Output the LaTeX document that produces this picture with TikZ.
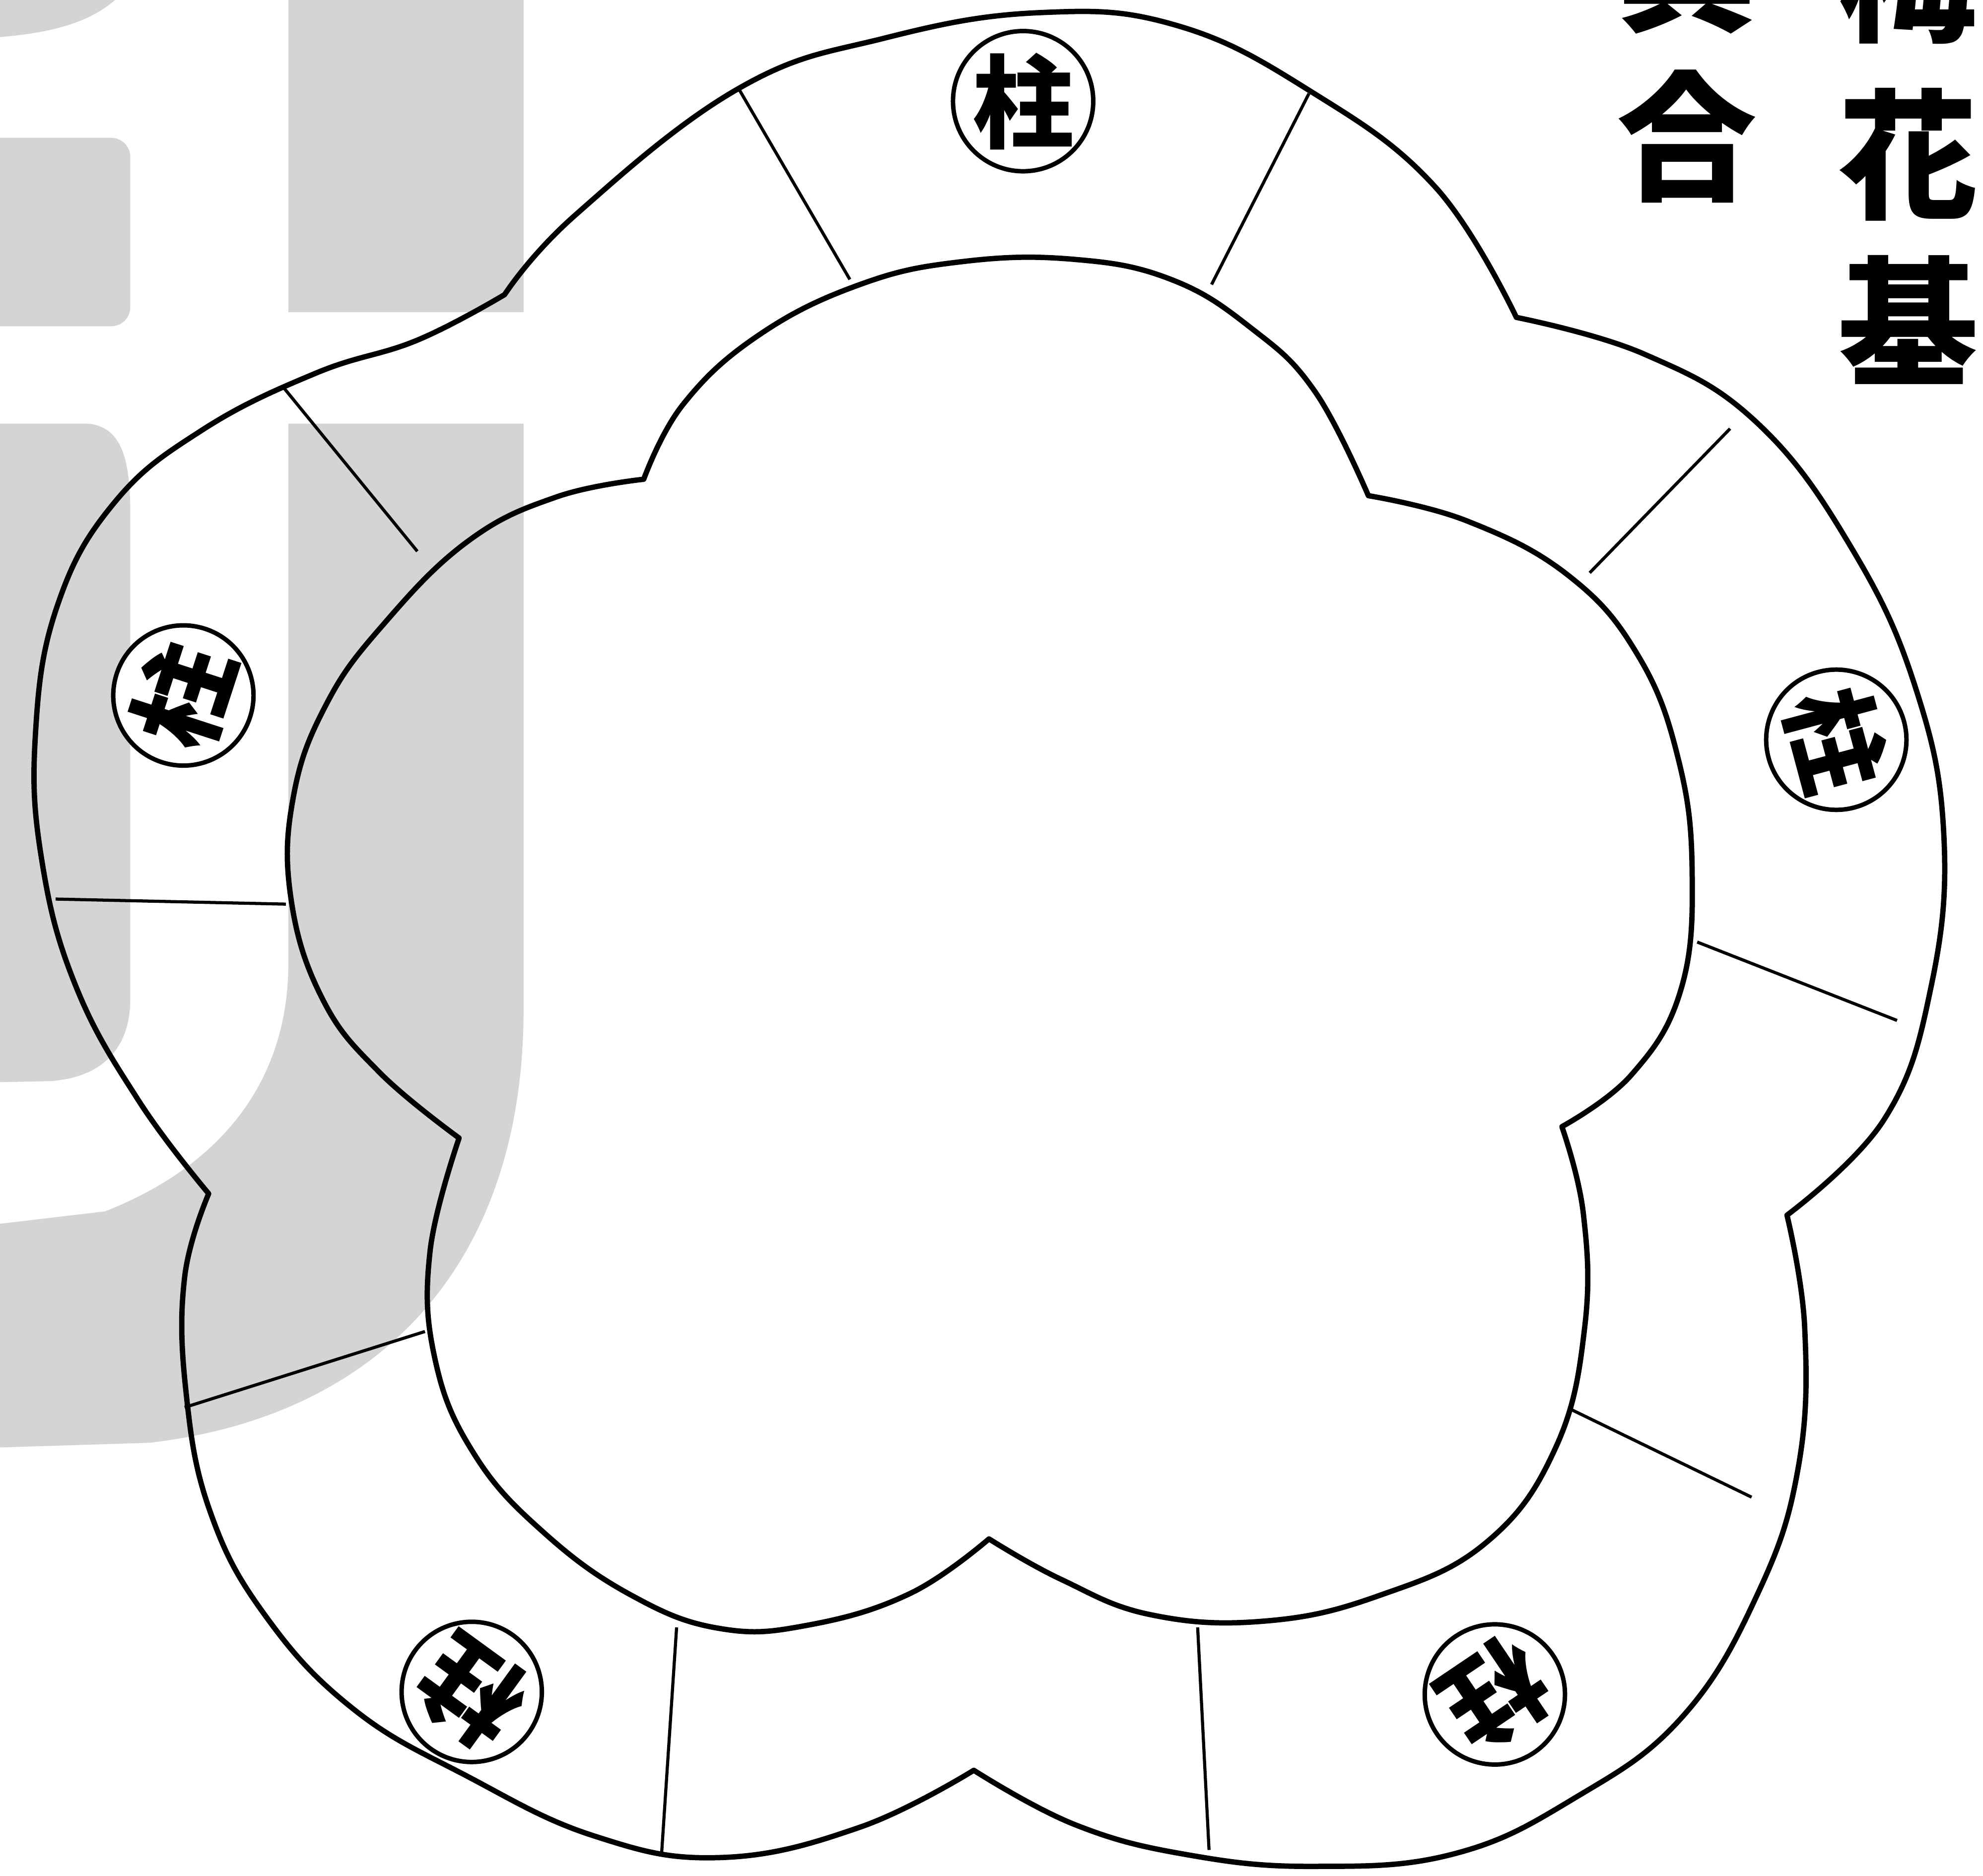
\documentclass[tikz,border=0pt]{standalone}
\usepackage{fontspec}
\newfontfamily\jpfont{Noto Sans CJK JP}
\definecolor{markgrey}{HTML}{D4D4D4}
\tikzset{
  outline/.style={line width=12pt, line join=round, line cap=round},
  lobe/.style={smooth, tension=0.7},
  tie/.style={line width=7pt},
  pillar/.style={circle, draw, fill=white, line width=10pt, minimum size=97mm, inner sep=0pt,
    font=\jpfont\bfseries\fontsize{228}{228}\selectfont},
  heading/.style={inner sep=0pt, font=\jpfont\bfseries\fontsize{315}{315}\selectfont}
}
\begin{document}
\begin{tikzpicture}[x=1mm, y=-1mm]
\useasboundingbox (0,0) rectangle (1568,1483.6);
\clip (0,0) rectangle (1568,1483.6);
\fill[white] (0,0) rectangle (1568,1483.6);

\fill[markgrey] (-10,-10) -- (95,-10) -- (91,0) .. controls (70,18) and (40,27) .. (-10,30) -- cycle;
\fill[markgrey, rounded corners=15mm] (-30,109) -- (103,109) -- (103,258) -- (-30,258) -- cycle;
\fill[markgrey] (228,-10) rectangle (414,247);
\fill[markgrey] (-10,335) -- (70,335) .. controls (95,338) and (103,360) .. (103,406) -- (103,790)
  .. controls (103,830) and (80,852) .. (40,855) -- (-10,856) -- cycle;
\fill[markgrey] (228,335) -- (414,335) -- (414,798) .. controls (414,1000) and (300,1120) .. (118,1141)
  -- (-10,1145) -- (-10,969) -- (83,958) .. controls (180,920) and (228,850) .. (228,762) -- cycle;

\draw[outline] plot[lobe] coordinates {(399,233) (455,170) (584,70) (700,30) (822,10) (930,20) (1036,72) (1135,148) (1199,251)}
  -- plot[lobe] coordinates {(1199,251) (1300,280) (1390,335) (1465,435) (1515,545) (1537,660) (1527,780) (1490,885) (1413,961)}
  -- plot[lobe] coordinates {(1413,961) (1427,1050) (1422,1160) (1390,1260) (1330,1358) (1245,1422) (1150,1466) (1040,1476) (940,1467) (850,1443) (770,1400)}
  -- plot[lobe] coordinates {(770,1400) (680,1445) (570,1469) (470,1452) (370,1405) (280,1352) (210,1278) (166,1195) (147,1100) (146,1010) (165,944)}
  -- plot[lobe] coordinates {(165,944) (110,871) (60,780) (33,680) (28,581) (45,480) (90,398) (160,340) (250,295) (330,269) (399,233)}
  -- cycle;

\draw[outline] plot[lobe] coordinates {(509,379) (540,320) (600,265) (680,225) (760,207) (848,205) (926,221) (990,260) (1040,310) (1082,392)}
  -- plot[lobe] coordinates {(1082,392) (1160,412) (1240,455) (1295,518) (1327,600) (1338,690) (1329,783) (1290,850) (1235,891)}
  -- plot[lobe] coordinates {(1235,891) (1252,960) (1253,1050) (1230,1145) (1175,1220) (1090,1262) (1000,1282) (910,1277) (839,1249) (782,1217)}
  -- plot[lobe] coordinates {(782,1217) (720,1260) (640,1285) (570,1288) (500,1262) (430,1212) (375,1150) (344,1075) (340,990) (363,900)}
  -- plot[lobe] coordinates {(363,900) (300,848) (255,790) (230,710) (232,630) (258,557) (303,494) (370,428) (440,393) (509,379)}
  -- cycle;

\draw[tie] (584,70) -- (672,221)
  (1035,74) -- (958,225)
  (1368,339) -- (1257,453)
  (1342,745) -- (1500,807)
  (1243,1115) -- (1385,1184)
  (947,1287) -- (956,1463)
  (535,1287) -- (523,1468)
  (146,1113) -- (336,1053)
  (44,711) -- (226,715)
  (223,305) -- (330,436);

\node[pillar] (pTop) at (809,80) {柱};
\node[pillar, rotate=72] (pLeft) at (145,550) {柱};
\node[pillar, rotate=-75] (pRight) at (1452,585) {柱};
\node[pillar, rotate=144] (pLowL) at (373,1338) {柱};
\node[pillar, rotate=-146] (pLowR) at (1182,1340) {柱};

\node[heading] (ume) at (1509,-18) {梅};
\node[heading] (hana) at (1509,122) {花};
\node[heading] (ki) at (1509,253) {基};
\node[heading] (gu) at (1334,-24) {具};
\node[heading] (ai) at (1334,108) {合};
\end{tikzpicture}
\end{document}
